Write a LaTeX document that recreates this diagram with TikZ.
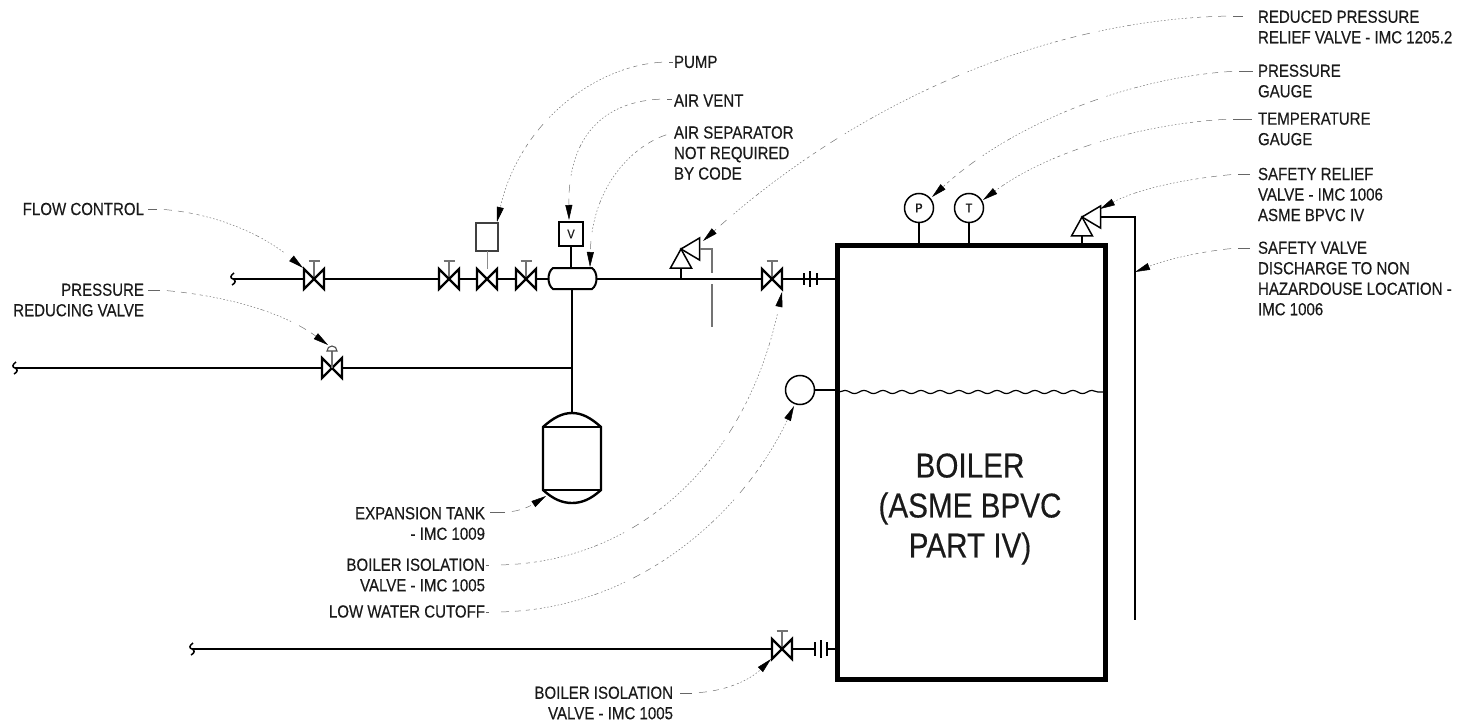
\documentclass[tikz,border=0pt]{standalone}
\usepackage{fontspec}
\usetikzlibrary{arrows.meta,decorations.pathmorphing}
\newfontfamily\labfam[FakeStretch=0.86,FakeBold=0.3]{Liberation Sans}
\newfontfamily\bigfam[FakeStretch=0.86,FakeBold=0.35]{Liberation Sans}
\definecolor{ink}{HTML}{1A1A1A}
\tikzset{
  every node/.style={outer sep=0pt},
  lab/.style={inner sep=0pt,text=ink,font=\labfam\fontsize{17.5}{20.5}\selectfont},
  labl/.style={lab,anchor=west,align=left},
  labr/.style={lab,anchor=east,align=right},
  leader/.style={draw=black!55,line width=0.5pt,
     dash pattern=on 0pt off 7pt on 8pt off 6pt on 6pt off 5pt on 4pt off 4pt on 3pt off 3pt on 2pt off 2pt on 1.5pt off 2pt on 1.5pt off 2pt on 1.5pt off 2pt on 1.5pt off 2pt on 1.5pt off 2pt on 1.5pt off 2pt on 1.5pt off 2pt on 1.5pt off 2pt on 1.5pt off 2pt on 1.5pt off 2pt on 1.5pt off 2pt on 1.5pt off 2pt on 1.5pt off 2pt on 1.5pt off 2pt on 1.5pt off 2pt on 4pt off 3pt on 1.5pt off 2pt on 1.5pt off 2pt on 1.5pt off 2pt on 1.5pt off 2pt on 1.5pt off 2pt on 1.5pt off 2pt on 1.5pt off 2pt on 1.5pt off 2pt,
     -{Triangle[length=15pt,width=7pt,black]}},
  labtick/.style={draw=black!60,line width=0.8pt},
  pipe/.style={draw=black,line width=2.1pt},
  heavypipe/.style={draw=black,line width=2.6pt},
  fine/.style={draw=black,line width=1.2pt},
  greyl/.style={draw=black!55,line width=1.1pt},
  gauge/.style={circle,draw=black,line width=1.5pt,fill=white,minimum size=29pt,inner sep=0pt,
     text=ink,font=\labfam\fontsize{13}{14}\selectfont},
  pics/valve/.style={code={
    \draw[line width=2.2pt,line join=miter,fill=white] (-10,-10)--(10,10)--(10,-10)--(-10,10)--cycle;}},
  pics/stemvalve/.style={code={
    \draw[greyl] (0,0)--(0,-18) (-5.5,-18)--(5.5,-18);
    \draw[line width=2.2pt,line join=miter,fill=white] (-10,-10)--(10,10)--(10,-10)--(-10,10)--cycle;}},
  pics/squig/.style={code={
    \draw[line width=1.5pt] (1,-6) .. controls (-3,-3) and (-3,-1) .. (0,0) .. controls (3,1) and (3,4) .. (-1,6);}},
  pics/relief/.style={code={
    \draw[line width=1.5pt,fill=white,line join=miter] (0,0)--(-10.5,19)--(10.5,19)--cycle;
    \draw[line width=1.5pt,fill=white,line join=miter] (0,0)--(18.5,-11)--(18.5,11)--cycle;}},
}
\begin{document}
\begin{tikzpicture}[x=1pt,y=-1pt]
\useasboundingbox (0,0) rectangle (1474,727);
% anchors on pipes
\coordinate (upS) at (233,279);
\coordinate (lowS) at (15,368);
\coordinate (botS) at (192,649);
\coordinate (teeU) at (572,289);
\coordinate (teeL) at (572,368);
\coordinate (upE) at (837,279);
\coordinate (botE) at (837,649);
% boiler
\node[draw=black,line width=5pt,minimum width=268pt,minimum height=433pt,inner sep=0pt,anchor=north west] (boiler) at (837,246) {};
\node[inner sep=0pt,align=center,text=ink,font=\bigfam\fontsize{34.5}{40}\selectfont] (boilertext) at (970,509) {BOILER\\(ASME BPVC\\PART IV)};
% pipes
\draw[pipe] (upS)--(upE);
\draw[heavypipe] (lowS)--(teeL);
\draw[heavypipe] (teeU)--(teeL);
\draw[heavypipe] (botS)--(815,649);
\draw[pipe] (827,649)--(botE);
% flanges
\draw[line width=1.5pt] (804,273)--(804,285) (817,273)--(817,285);
\draw[line width=2.4pt] (810,271)--(810,287);
\draw[line width=1.5pt] (815,642)--(815,656) (827,642)--(827,656);
\draw[line width=2.4pt] (821,640)--(821,658);
% squiggles
\pic at (upS) {squig};
\pic at (lowS) {squig};
\pic at (botS) {squig};
% valves
\coordinate (vflow) at (314,279);
\coordinate (v2) at (449,279);
\coordinate (v3) at (487,279);
\coordinate (v4) at (526,279);
\coordinate (viso) at (772,279);
\coordinate (vprv) at (332,368);
\coordinate (vbot) at (782,649);
\pic at (vflow) {stemvalve};
\pic at (v2) {stemvalve};
\pic at (v4) {stemvalve};
\pic at (viso) {stemvalve};
\pic at (vbot) {stemvalve};
\pic at (v3) {valve};
\pic at (vprv) {valve};
\draw[greyl] (vprv)--(332,351);
\draw[draw=black!70,line width=1.1pt,fill=white] (327,351) arc[start angle=180,end angle=360,radius=5] -- cycle;
% pump
\node[draw=black!75,line width=1.3pt,minimum width=22pt,minimum height=28pt,inner sep=0pt,fill=white] (pump) at (487,237) {};
\draw[black!45,line width=0.9pt] (pump.south)--(487,269);
% air vent and separator
\node[minimum width=49pt,minimum height=21pt,inner sep=0pt] (sep) at (572.5,278.5) {};
\draw[line width=2pt,fill=white] (553,268) -- (592,268) .. controls (598,272) and (598,285) .. (592,289) -- (553,289) .. controls (547,285) and (547,272) .. cycle;
\node[draw=black,line width=1.4pt,minimum width=24pt,minimum height=24pt,inner sep=0pt,text=ink,font=\labfam\fontsize{13}{14}\selectfont] (vent) at (571,234) {V};
\draw[fine] (vent.south)--(vent.south|-sep.north);
% reduced pressure relief valve
\coordinate (rpz) at (681,249);
\draw[fine] (681,268)--(681,279);
\pic at (rpz) {relief};
\draw[greyl] (699.5,249)--(712,249)--(712,273);
\draw[greyl] (712,284)--(712,327);
% safety valve
\coordinate (svz) at (1082,217);
\draw[fine] (1082,236)--(1082,244);
\pic at (svz) {relief};
\draw[fine] (1100.5,217)--(1135,217)--(1135,620);
% gauges
\node[gauge] (gp) at (919,208) {P};
\node[gauge] (gt) at (969,208) {T};
\draw[fine] (gp.south)--(gp.south|-boiler.north);
\draw[fine] (gt.south)--(gt.south|-boiler.north);
% low water
\node[gauge] (lw) at (800,390) {};
\draw[fine] (lw.east)--(837,390);
\draw[fine,decorate,decoration={snake,segment length=19pt,amplitude=1.6pt}] (839,392)--(1104,392);
% tank
\coordinate (tanktop) at (572,413);
\draw[heavypipe] (teeL)--(tanktop);
\draw[line width=2.4pt,fill=white] (543,427) .. controls (553,418) and (562,413) .. (tanktop) .. controls (582,413) and (591,418) .. (601,427) -- (601,490) .. controls (591,499) and (582,503) .. (572,503) .. controls (562,503) and (553,499) .. (543,490) -- cycle;
\draw[line width=1.1pt] (543,427)--(601,427) (543,490)--(601,490);
% labels
\node[labl] (l1) at (1258,27) {REDUCED PRESSURE\\RELIEF VALVE - IMC 1205.2};
\node[labl] (l2) at (1258,81) {PRESSURE\\GAUGE};
\node[labl] (l3) at (1258,129) {TEMPERATURE\\GAUGE};
\node[labl] (l4) at (1258,194.5) {SAFETY RELIEF\\VALVE - IMC 1006\\ASME BPVC IV};
\node[labl] (l5) at (1258,278.5) {SAFETY VALVE\\DISCHARGE TO NON\\HAZARDOUSE LOCATION -\\IMC 1006};
\node[labl] (l6) at (674,62) {PUMP};
\node[labl] (l7) at (674,100.5) {AIR VENT};
\node[labl] (l8) at (674,153) {AIR SEPARATOR\\NOT REQUIRED\\BY CODE};
\node[labr] (l9) at (144,209) {FLOW CONTROL};
\node[labr] (l10) at (144,300) {PRESSURE\\REDUCING VALVE};
\node[labr] (l11) at (485,523.5) {EXPANSION TANK\\- IMC 1009};
\node[labr] (l12) at (485,575) {BOILER ISOLATION\\VALVE - IMC 1005};
\node[labr] (l13) at (485,611.5) {LOW WATER CUTOFF};
\node[labr] (l14) at (673,703) {BOILER ISOLATION\\VALVE - IMC 1005};
% leader start points, one beside each label
\coordinate (s1) at (1233,16);
\coordinate (s2) at (1239,71);
\coordinate (s3) at (1233,119);
\coordinate (s4) at (1238,174);
\coordinate (s5) at (1238,248);
\coordinate (s6) at (669,62);
\coordinate (s7) at (667,99);
\coordinate (s8) at (673,133);
\coordinate (s9) at (157,209);
\coordinate (s10) at (160,290);
\coordinate (s11) at (505,512);
\coordinate (s12) at (494,565);
\coordinate (s13) at (494,612);
\coordinate (s14) at (692,693);
% label ticks
\draw[labtick] (s1)--(1243,16);
\draw[labtick] (s2)--(1253,71);
\draw[labtick] (s3)--(1252,119);
\draw[labtick] (s4)--(1250,174);
\draw[labtick] (s5)--(1250,248);
\draw[labtick] (s6)--(673,62);
\draw[labtick] (s7)--(672,99);
\draw[labtick] (s9)--(148,209);
\draw[labtick] (s10)--(148,290);
\draw[labtick] (s11)--(490,512);
\draw[labtick] (486,565)--(489,565);
\draw[labtick] (486,612)--(489,612);
\draw[labtick] (s14)--(680,693);
% leaders
\draw[leader] (s1) .. controls (1050,18) and (860,100) .. (703,241);
\draw[leader] (s2) .. controls (1130,76) and (1010,125) .. (932,197);
\draw[leader] (s3) .. controls (1150,122) and (1050,150) .. (983,200);
\draw[leader] (s4) .. controls (1190,178) and (1140,188) .. (1100,209);
\draw[leader] (s5) .. controls (1210,250) and (1170,258) .. (1135,272);
\draw[leader] (s6) .. controls (600,62) and (520,120) .. (497,222);
\draw[leader] (s7) .. controls (610,99) and (568,130) .. (569,220);
\draw[leader] (s8) .. controls (640,140) and (592,180) .. (590,267);
\draw[leader] (s9) .. controls (210,212) and (260,232) .. (303,268);
\draw[leader] (s10) .. controls (220,295) and (280,310) .. (328,345);
\draw[leader] (s11) .. controls (520,512) and (532,505) .. (546,496);
\draw[leader] (s12) .. controls (630,565) and (745,470) .. (782,292);
\draw[leader] (s13) .. controls (630,612) and (740,520) .. (794,406);
\draw[leader] (s14) .. controls (725,692) and (750,680) .. (771,659);
\end{tikzpicture}
\end{document}
